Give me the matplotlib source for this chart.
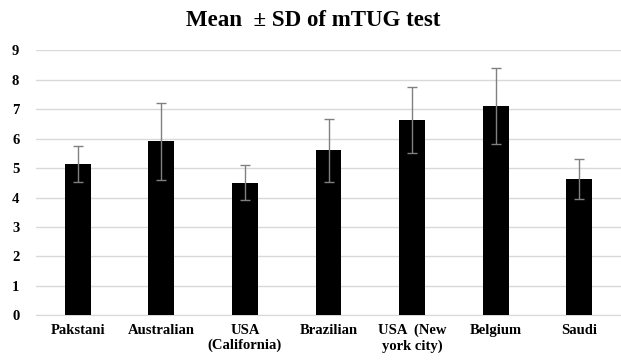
import matplotlib.pyplot as plt

# Data
groups = ['Pakstani', 'Australian', 'USA\n(California)', 'Brazilian',
          'USA  (New\nyork city)', 'Belgium', 'Saudi']
means = [5.13, 5.91, 4.50, 5.60, 6.63, 7.10, 4.64]
sds = [0.61, 1.30, 0.60, 1.07, 1.12, 1.29, 0.68]
yticks = list(range(0, 10))

plt.rcParams['font.family'] = ['Liberation Serif', 'DejaVu Serif']

fig = plt.figure(figsize=(6.21, 3.61), dpi=100)
ax = fig.add_axes([0.058, 0.1266, 0.942, 0.7341])

x = range(len(groups))
ax.bar(x, means, width=0.31, color='black', zorder=3)
ax.errorbar(x, means, yerr=sds, fmt='none', ecolor='#808080',
            elinewidth=1.0, capsize=3.5, capthick=1.0, zorder=4)

ax.set_xlim(-0.5, len(groups) - 0.5)
ax.set_ylim(0, 9)
ax.set_yticks(yticks)
ax.set_xticks(list(x))
ax.set_xticklabels(groups, fontsize=10.5, fontweight='bold')
for lab in ax.get_yticklabels():
    lab.set_fontsize(10.5)
    lab.set_fontweight('bold')

ax.grid(axis='y', color='#d9d9d9', linewidth=1.0, zorder=0)
for s in ['top', 'right', 'left']:
    ax.spines[s].set_visible(False)
ax.spines['bottom'].set_color('#d9d9d9')
ax.tick_params(length=0)
ax.tick_params(axis='x', pad=6)
ax.tick_params(axis='y', pad=12)

fig.suptitle('Mean  \u00b1 SD of mTUG test', fontsize=16.5, fontweight='bold',
             x=0.505, y=0.972)

plt.savefig('out.png', dpi=100)
